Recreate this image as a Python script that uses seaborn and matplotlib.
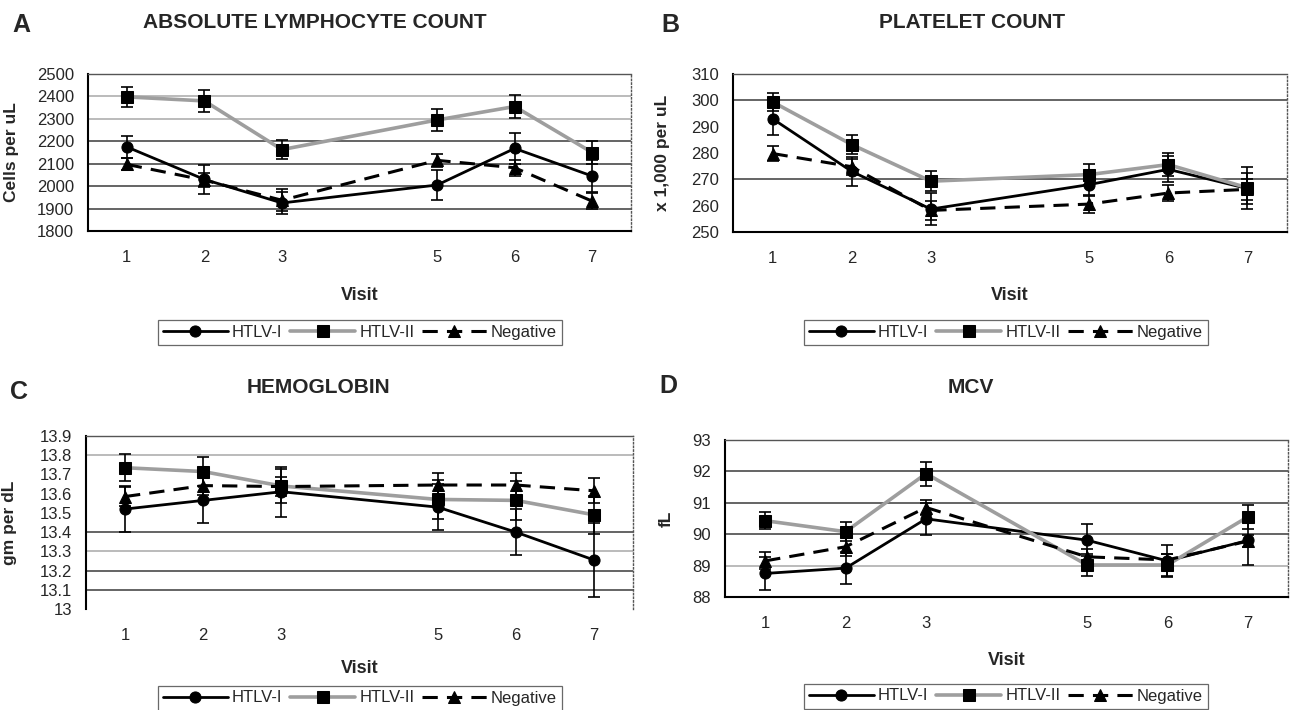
import numpy as np
import pandas as pd
import matplotlib
matplotlib.use('Agg')
import matplotlib.pyplot as plt
import seaborn as sns

sns.set_theme(style='white')
plt.rcParams['font.family'] = ['Liberation Sans', 'DejaVu Sans']

# ---------------- datos ----------------
visits = [1, 2, 3, 5, 6, 7]
groups = ['HTLV-I', 'HTLV-II', 'Negative']

# A - absolute lymphocyte count
lym_htlv1 = [2175, 2030, 1925, 2005, 2168, 2045]
lym_htlv1_err = [50, 65, 50, 65, 70, 70]
lym_htlv2 = [2398, 2380, 2163, 2295, 2355, 2150]
lym_htlv2_err = [45, 50, 42, 48, 52, 50]
lym_neg = [2097, 2027, 1937, 2115, 2082, 1933]
lym_neg_err = [27, 30, 50, 30, 35, 35]

# B - platelet count
plt_htlv1 = [293.0, 273.0, 258.7, 268.0, 273.8, 266.5]
plt_htlv1_err = [6, 5.5, 6, 4, 5, 6]
plt_htlv2 = [299.4, 283.2, 269.3, 271.8, 275.6, 266.8]
plt_htlv2_err = [3.5, 3.7, 3.7, 4, 4.3, 8]
plt_neg = [279.8, 274.8, 258.2, 260.6, 264.8, 266.2]
plt_neg_err = [2.8, 3, 3.5, 3.2, 3, 4]

# C - hemoglobin
hb_htlv1 = [13.52, 13.565, 13.61, 13.53, 13.40, 13.255]
hb_htlv1_err = [0.12, 0.12, 0.13, 0.12, 0.12, 0.19]
hb_htlv2 = [13.735, 13.715, 13.64, 13.57, 13.565, 13.49]
hb_htlv2_err = [0.07, 0.075, 0.09, 0.1, 0.1, 0.1]
hb_neg = [13.585, 13.642, 13.637, 13.645, 13.645, 13.615]
hb_neg_err = [0.05, 0.05, 0.05, 0.06, 0.06, 0.065]

# D - MCV
mcv_htlv1 = [88.75, 88.92, 90.49, 89.81, 89.15, 89.8]
mcv_htlv1_err = [0.52, 0.5, 0.5, 0.5, 0.5, 0.78]
mcv_htlv2 = [90.43, 90.08, 91.93, 89.02, 89.02, 90.55]
mcv_htlv2_err = [0.28, 0.3, 0.38, 0.36, 0.35, 0.38]
mcv_neg = [89.15, 89.6, 90.85, 89.28, 89.18, 89.78]
mcv_neg_err = [0.27, 0.3, 0.23, 0.25, 0.2, 0.2]

# ---------------- estilo ----------------
W, H = 1290, 710
fig = plt.figure(figsize=(W / 100, H / 100), dpi=100)

estilo = {
    'HTLV-I': dict(color='black', marker='o', linestyle='-', lw=2.0, ms=8),
    'HTLV-II': dict(color='#9e9e9e', marker='s', linestyle='-', lw=2.6, ms=8),
    'Negative': dict(color='black', marker='^', linestyle=(0, (5, 3)), lw=2.2, ms=8),
}


def px_rect(l, t, r, b):
    return [l / W, 1 - b / H, (r - l) / W, (b - t) / H]


paneles = [
    dict(letra='A', titulo='ABSOLUTE LYMPHOCYTE COUNT', ylabel='Cells per uL',
         series=[(lym_htlv1, lym_htlv1_err), (lym_htlv2, lym_htlv2_err), (lym_neg, lym_neg_err)],
         yticks=np.arange(1800, 2501, 100), ylim=(1800, 2500),
         rect=(88, 74, 631, 231), tit=(315, 22), let=(21, 25), ylx=19, visit_y=287, leg=(360, 332),
         grid_claro=[2400, 2300], grid_oculto=[], sin_abajo=False),
    dict(letra='B', titulo='PLATELET COUNT', ylabel='x 1,000 per uL',
         series=[(plt_htlv1, plt_htlv1_err), (plt_htlv2, plt_htlv2_err), (plt_neg, plt_neg_err)],
         yticks=np.arange(250, 311, 10), ylim=(250, 310),
         rect=(733, 74, 1287, 232), tit=(972, 22), let=(670, 25), ylx=670, visit_y=287, leg=(1006, 332),
         grid_claro=[], grid_oculto=[290, 280, 260], sin_abajo=False),
    dict(letra='C', titulo='HEMOGLOBIN', ylabel='gm per dL',
         series=[(hb_htlv1, hb_htlv1_err), (hb_htlv2, hb_htlv2_err), (hb_neg, hb_neg_err)],
         yticks=np.round(np.arange(13.0, 13.91, 0.1), 1), ylim=(13.0, 13.9),
         rect=(86, 436, 633, 609), tit=(318, 387), let=(19, 392), ylx=17, visit_y=660, leg=(360, 698),
         grid_claro=[13.8, 13.3], grid_oculto=[13.7, 13.6, 13.5], sin_abajo=True),
    dict(letra='D', titulo='MCV', ylabel='fL',
         series=[(mcv_htlv1, mcv_htlv1_err), (mcv_htlv2, mcv_htlv2_err), (mcv_neg, mcv_neg_err)],
         yticks=np.arange(88, 94, 1), ylim=(88, 93),
         rect=(725, 440, 1288, 597), tit=(971, 387), let=(668, 386), ylx=674, visit_y=652, leg=(1006, 696),
         grid_claro=[89], grid_oculto=[], sin_abajo=False),
]

for p in paneles:
    l, t, r, b = p['rect']
    ax = fig.add_axes(px_rect(l, t, r, b))

    # una serie por grupo: barras de error + linea con marcadores
    for g, (vals, errs) in zip(groups, p['series']):
        df = pd.DataFrame({'Visit': visits, 'valor': vals, 'err': errs})
        st = estilo[g]
        ax.errorbar(df['Visit'], df['valor'], yerr=df['err'], fmt='none',
                    ecolor='black', elinewidth=1.2, capsize=4, capthick=1.2, zorder=3)
        sns.lineplot(data=df, x='Visit', y='valor', ax=ax, label=g,
                     color=st['color'], marker=st['marker'], linestyle=st['linestyle'],
                     linewidth=st['lw'], markersize=st['ms'],
                     markerfacecolor='black', markeredgecolor='black', zorder=4)

    ax.set_xlim(0.5, 7.5)
    ax.set_ylim(*p['ylim'])
    xt = np.arange(0.5, 7.51, 0.5)
    ax.set_xticks(xt)
    ax.set_xticklabels([str(int(v)) if v in visits else '' for v in xt], fontsize=12)
    ax.set_yticks(p['yticks'])
    ax.set_yticklabels([f'{v:g}' for v in p['yticks']], fontsize=12)
    ax.tick_params(axis='x', direction='out', length=4, width=0.8, pad=10, color='#333333')
    ax.tick_params(axis='y', direction='out', length=4, width=0.8, pad=6, color='#333333')

    # rejilla (algunas lineas salen claras u ocultas en el original)
    ax.grid(False)
    for v in p['yticks']:
        if v in (p['ylim'][0], p['ylim'][1]) or v in p['grid_oculto']:
            continue
        c = '#a8a8a8' if v in p['grid_claro'] else '#3a3a3a'
        ax.axhline(v, color=c, lw=1.1, zorder=1)

    for lado in ['left', 'bottom']:
        ax.spines[lado].set_color('black')
        ax.spines[lado].set_linewidth(1.5)
    for lado in ['top', 'right']:
        ax.spines[lado].set_color('#555555')
        ax.spines[lado].set_linewidth(1.0)
    ax.spines['right'].set_linestyle(':')
    if p['sin_abajo']:
        ax.spines['bottom'].set_visible(False)

    # etiquetas
    ax.set_ylabel(p['ylabel'], fontsize=12.5, fontweight='bold')
    ax.yaxis.set_label_coords((p['ylx'] - l) / (r - l), 0.5)
    ax.set_xlabel('Visit', fontsize=13, fontweight='bold')
    ax.xaxis.set_label_coords(0.5, -(p['visit_y'] - b) / (b - t))

    fig.text(p['tit'][0] / W, 1 - p['tit'][1] / H, p['titulo'], ha='center', va='center',
             fontsize=15, fontweight='bold')
    fig.text(p['let'][0] / W, 1 - p['let'][1] / H, p['letra'], ha='center', va='center',
             fontsize=18, fontweight='bold')

    handles, labels = ax.get_legend_handles_labels()
    ax.legend(handles, labels, loc='center', ncol=3,
              bbox_to_anchor=(p['leg'][0] / W, 1 - p['leg'][1] / H), bbox_transform=fig.transFigure,
              frameon=True, fancybox=False, edgecolor='#444444', fontsize=12,
              handlelength=3.9, handletextpad=0.25, columnspacing=0.45,
              borderpad=0.3, borderaxespad=0)
    ax.get_legend().get_frame().set_linewidth(0.9)

fig.savefig('out.png', dpi=100, facecolor='white')
